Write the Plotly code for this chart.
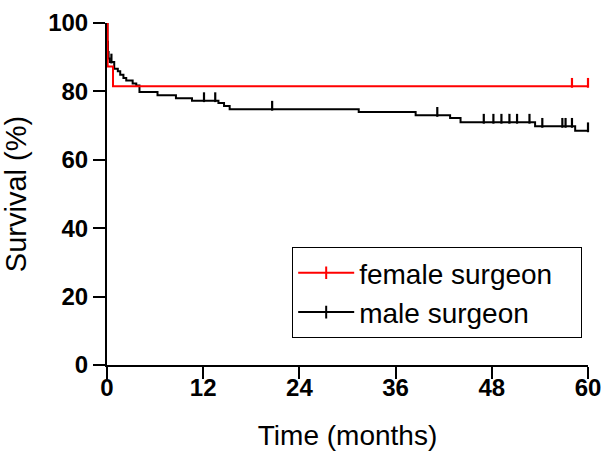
import plotly.graph_objects as go
import numpy as np

# ---- data ----
female_time = [0, 0.08, 0.75]
female_surv = [100, 87.3, 81.5]
female_censor = [58.0, 60.0]

male_time = [0, 0.05, 0.12, 0.2, 0.35, 0.9, 1.35, 1.65, 2.05, 2.4, 3.2, 3.65, 4.05,
             6.3, 8.6, 10.6, 13.9, 14.6, 15.3, 31.4, 38.5, 42.8, 44.1, 53.4, 58.4]
male_surv = [100, 94.5, 91.5, 89.6, 88.6, 86.6, 85.9, 84.9, 83.9, 83.2, 82.3, 81.7, 79.8,
             78.9, 78.0, 77.3, 76.6, 75.7, 74.8, 74.0, 73.0, 72.2, 71.0, 69.8, 68.5]
male_censor = [0.55, 12.1, 13.5, 20.6, 41.2, 47.0, 48.2, 49.2, 50.2, 51.15, 52.7,
               54.3, 56.8, 57.2, 58.0, 60.0]

x_ticks = [0, 12, 24, 36, 48, 60]
y_ticks = [0, 20, 40, 60, 80, 100]
T_END = 60

FONT = "Liberation Sans, Arial, Helvetica, sans-serif"
PAD = "\u00a0" * 3


def step_value(times, surv, t):
    idx = np.searchsorted(np.array(times), t, side="right") - 1
    return surv[max(idx, 0)]


def series(times, surv, censor, color, name):
    xs = list(times) + [T_END]
    ys = list(surv) + [surv[-1]]
    line = go.Scatter(x=xs, y=ys, mode="lines", line=dict(color=color, width=2, shape="hv"),
                      showlegend=False, hoverinfo="skip")
    cy = [step_value(times, surv, c) + 1.0 for c in censor]
    marks = go.Scatter(x=censor, y=cy, mode="markers", cliponaxis=False,
                       marker=dict(symbol="line-ns", size=7, line=dict(color=color, width=2.2)),
                       showlegend=False, hoverinfo="skip")
    leg = go.Scatter(x=[None], y=[None], mode="lines+markers", name=name + PAD,
                     line=dict(color=color, width=2),
                     marker=dict(symbol="line-ns", size=9, line=dict(color=color, width=2)))
    return [line, marks, leg]


fig = go.Figure()
male = series(male_time, male_surv, male_censor, "#000000", "male surgeon")
female = series(female_time, female_surv, female_censor, "#ff0000", "female surgeon")
for tr in male[:2] + female[:2]:
    fig.add_trace(tr)
fig.add_trace(female[2])
fig.add_trace(male[2])

fig.update_layout(
    width=602, height=451,
    paper_bgcolor="white", plot_bgcolor="white",
    margin=dict(l=107, r=14, t=23, b=86),
    font=dict(family=FONT, color="black"),
    legend=dict(x=0.385, y=0.345, xanchor="left", yanchor="top",
                bordercolor="black", borderwidth=1, bgcolor="white", itemwidth=56,
                font=dict(size=28, family=FONT), traceorder="normal"),
)
fig.update_xaxes(range=[0, 60], tickvals=x_ticks, ticktext=[str(v) for v in x_ticks],
                 showline=True, linecolor="black", linewidth=2, ticks="outside",
                 ticklen=12, tickwidth=2, tickcolor="black", showgrid=False, zeroline=False,
                 automargin=False, ticklabelstandoff=-12,
                 tickfont=dict(size=24, family=FONT, weight="bold"),
                 title=dict(text="Time (months)", font=dict(size=28, family=FONT), standoff=30))
fig.update_yaxes(range=[0, 100], tickvals=y_ticks, ticktext=[str(v) for v in y_ticks],
                 showline=True, linecolor="black", linewidth=2, ticks="outside",
                 ticklen=12, tickwidth=2, tickcolor="black", showgrid=False, zeroline=False,
                 automargin=False,
                 tickfont=dict(size=24, family=FONT, weight="bold"),
                 title=dict(text="Survival (%)", font=dict(size=29, family=FONT), standoff=13))

fig.write_html("out.html", config={"displayModeBar": False},
               post_script="document.body.style.margin='0';document.body.style.overflow='hidden';")
